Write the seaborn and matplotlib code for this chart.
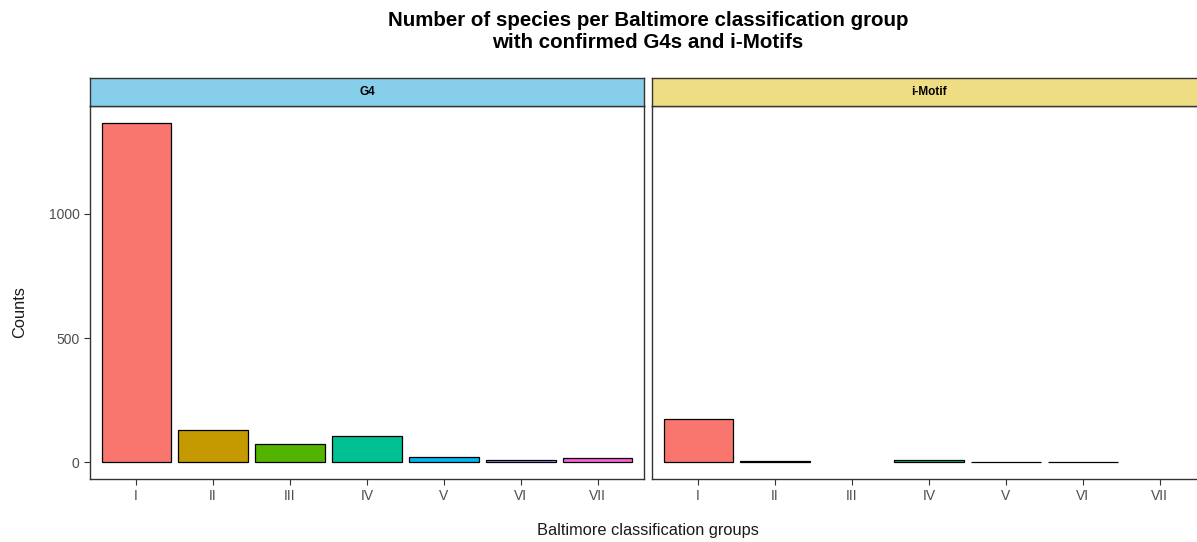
import pandas as pd
import seaborn as sns
import matplotlib.pyplot as plt

groups = ["I", "II", "III", "IV", "V", "VI", "VII"]
g4_counts = [1367, 131, 74, 105, 19, 9, 15]
imotif_groups = ["I", "II", "IV", "V", "VI"]
imotif_counts = [173, 4, 8, 1, 1]
colors = ["#F8766D", "#C49A00", "#53B400", "#00C094", "#00B6EB", "#A58AFF", "#FB61D7"]
panels = ["G4", "i-Motif"]
strip_colors = ["#87CEEB", "#EEDD82"]

sns.set_style("white")
plt.rcParams['font.family'] = ['Liberation Sans', 'DejaVu Sans']

W, H = 1197, 542
fig = plt.figure(figsize=(W / 100, H / 100), dpi=100)

pal = dict(zip(groups, colors))
dfs = [pd.DataFrame({"group": groups, "count": g4_counts}),
       pd.DataFrame({"group": imotif_groups, "count": imotif_counts})]
lefts = [90, 652]
pw = 554
top, bottom = 106, 479
strip_top = 78

for i, (name, df) in enumerate(zip(panels, dfs)):
    ax = fig.add_axes([lefts[i] / W, 1 - bottom / H, pw / W, (bottom - top) / H])
    sns.barplot(data=df, x="group", y="count", hue="group", order=groups,
                hue_order=groups, palette=pal, saturation=1, edgecolor="black",
                linewidth=0.9, width=0.9, legend=False, ax=ax)
    ax.set_xlim(-0.6, 6.6)
    ax.set_ylim(-68, 1435)
    ax.set_yticks([0, 500, 1000])
    ax.set_xlabel("")
    ax.set_ylabel("")
    for s in ax.spines.values():
        s.set_color("#333333")
        s.set_linewidth(1.0)
    ax.tick_params(axis="both", direction="out", length=4, width=0.8,
                   color="#333333", labelsize=10, labelcolor="#4D4D4D",
                   bottom=True, left=True)
    if i == 1:
        ax.tick_params(axis="y", left=False, labelleft=False)

    sax = fig.add_axes([lefts[i] / W, 1 - top / H, pw / W, (top - strip_top) / H])
    sax.set_facecolor(strip_colors[i])
    sax.set_xticks([])
    sax.set_yticks([])
    for s in sax.spines.values():
        s.set_color("#333333")
        s.set_linewidth(1.0)
    sax.text(0.5, 0.5, name, ha="center", va="center", fontsize=8.5,
             fontweight="bold", color="black", transform=sax.transAxes)

cx = (90 + 652 + pw) / 2 / W
fig.text(cx, 1 - 32 / H, "Number of species per Baltimore classification group\nwith confirmed G4s and i-Motifs",
         ha="center", va="center", fontsize=14.8, fontweight="bold", color="black", linespacing=1.2)
fig.text(cx, 1 - 530 / H, "Baltimore classification groups", ha="center", va="center",
         fontsize=11.8, color="#1a1a1a")
fig.text(20 / W, 1 - 312 / H, "Counts", ha="center", va="center", rotation=90,
         fontsize=11.8, color="#1a1a1a")

fig.savefig("out.png", dpi=100)
